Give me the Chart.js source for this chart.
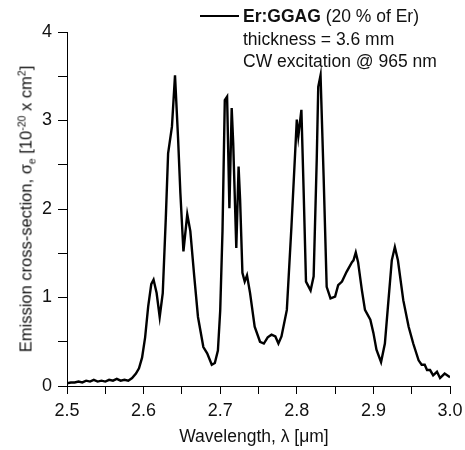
<!DOCTYPE html>
<html>
<head>
<meta charset="utf-8">
<script src="https://cdn.jsdelivr.net/npm/chart.js@4"></script>
<style>
  html, body { margin:0; padding:0; background:#fff; }
  #wrap { position:relative; width:465px; height:450px; font-family:"Liberation Sans", Arial, sans-serif; color:#111; }
  canvas { position:absolute; left:0; top:0; }
  .ytitle { position:absolute; left:26px; top:209px; transform:translate(-50%,-50%) rotate(-90deg); white-space:nowrap; font-size:16.5px; }
  .xtitle { position:absolute; left:254px; top:436px; transform:translate(-50%,-50%); white-space:nowrap; font-size:17.5px; }
  sub, sup { font-size:10.5px; line-height:0; }
  .leg { position:absolute; left:200px; top:5px; font-size:17.5px; line-height:22.5px; }
  .leg .row { position:relative; padding-left:43px; white-space:nowrap; }
  .leg .ln { position:absolute; left:0; top:10px; width:39px; height:0; border-top:2px solid #000; }
</style>
</head>
<body>
<div id="wrap">
  <canvas id="c" width="465" height="450"></canvas>
  <div class="ytitle">Emission cross-section, σ<sub>e</sub> [10<sup>-20</sup> x cm<sup>2</sup>]</div>
  <div class="xtitle">Wavelength, λ [μm]</div>
  <div class="leg">
    <div class="row"><span class="ln"></span><b>Er:GGAG</b> (20 % of Er)</div>
    <div class="row">thickness = 3.6 mm</div>
    <div class="row">CW excitation @ 965 nm</div>
  </div>
</div>
<script>
const wavelength = [2.500,2.505,2.510,2.515,2.520,2.525,2.530,2.535,2.540,2.545,2.550,2.555,2.560,2.565,2.570,2.575,2.580,2.585,2.590,2.594,2.598,2.602,2.606,2.610,2.613,2.617,2.621,2.625,2.629,2.632,2.637,2.641,2.645,2.648,2.652,2.657,2.661,2.666,2.671,2.678,2.683,2.689,2.693,2.697,2.700,2.703,2.706,2.709,2.712,2.715,2.717,2.721,2.724,2.726,2.729,2.732,2.735,2.739,2.745,2.752,2.757,2.762,2.767,2.772,2.776,2.780,2.787,2.793,2.800,2.802,2.806,2.809,2.812,2.818,2.822,2.826,2.828,2.831,2.835,2.839,2.844,2.850,2.854,2.859,2.865,2.872,2.874,2.877,2.880,2.885,2.889,2.896,2.900,2.904,2.910,2.915,2.919,2.924,2.928,2.932,2.939,2.946,2.952,2.959,2.963,2.967,2.970,2.974,2.978,2.983,2.987,2.993,3.000];
const crossSection = [0.03,0.04,0.04,0.05,0.04,0.06,0.05,0.07,0.05,0.06,0.05,0.07,0.06,0.08,0.06,0.07,0.06,0.09,0.14,0.20,0.32,0.55,0.90,1.15,1.20,1.05,0.78,1.05,1.90,2.63,2.93,3.51,2.80,2.18,1.52,1.94,1.75,1.25,0.78,0.44,0.37,0.24,0.26,0.40,0.85,1.75,3.23,3.27,2.01,3.14,2.74,1.56,2.48,2.10,1.28,1.18,1.25,1.05,0.67,0.50,0.48,0.55,0.58,0.56,0.48,0.56,0.86,1.80,3.01,2.82,3.12,2.18,1.18,1.08,1.24,2.55,3.38,3.51,2.37,1.12,0.99,1.01,1.14,1.18,1.29,1.40,1.42,1.51,1.40,1.08,0.86,0.75,0.60,0.41,0.27,0.48,0.90,1.42,1.57,1.42,0.97,0.67,0.48,0.29,0.24,0.24,0.18,0.18,0.12,0.16,0.09,0.14,0.10];
const xTickLabels = ["2.5","2.6","2.7","2.8","2.9","3.0"];
const yTickLabels = ["0","1","2","3","4"];

const points = wavelength.map((w, i) => ({x: w, y: crossSection[i]}));

new Chart(document.getElementById('c'), {
  type: 'line',
  data: { datasets: [{ data: points, borderColor: '#000', borderWidth: 2.4, pointRadius: 0, tension: 0, fill: false }] },
  options: {
    responsive: false,
    animation: false,
    events: [],
    layout: { padding: { top: 32, right: 15, left: 0, bottom: 0 } },
    plugins: { legend: { display: false }, tooltip: { enabled: false } },
    scales: {
      x: {
        type: 'linear', min: 2.5, max: 3.0,
        afterFit: s => { s.height = 64; s.paddingLeft = 0; s.paddingRight = 0; },
        afterBuildTicks: s => { s.ticks = []; for (let i = 0; i <= 10; i++) s.ticks.push({value: 2.5 + i * 0.05}); },
        ticks: {
          autoSkip: false, maxRotation: 0, padding: 6, color: '#111',
          font: { family: '"Liberation Sans", Arial, sans-serif', size: 18 },
          callback: (v, i) => (i % 2 === 0 ? xTickLabels[i / 2] : '')
        },
        grid: { drawOnChartArea: false, drawTicks: true, tickLength: 8, color: '#000', lineWidth: 1 },
        border: { display: true, color: '#000', width: 1 }
      },
      y: {
        min: 0, max: 4,
        afterFit: s => { s.width = 67; s.paddingTop = 0; s.paddingBottom = 0; },
        afterBuildTicks: s => { s.ticks = []; for (let i = 0; i <= 8; i++) s.ticks.push({value: i * 0.5}); },
        ticks: {
          autoSkip: false, padding: 6, color: '#111',
          font: { family: '"Liberation Sans", Arial, sans-serif', size: 18 },
          callback: (v, i) => (i % 2 === 0 ? yTickLabels[i / 2] : '')
        },
        grid: { drawOnChartArea: false, drawTicks: true, tickLength: 9, color: '#000', lineWidth: 1 },
        border: { display: true, color: '#000', width: 1 }
      }
    }
  }
});
</script>
</body>
</html>
